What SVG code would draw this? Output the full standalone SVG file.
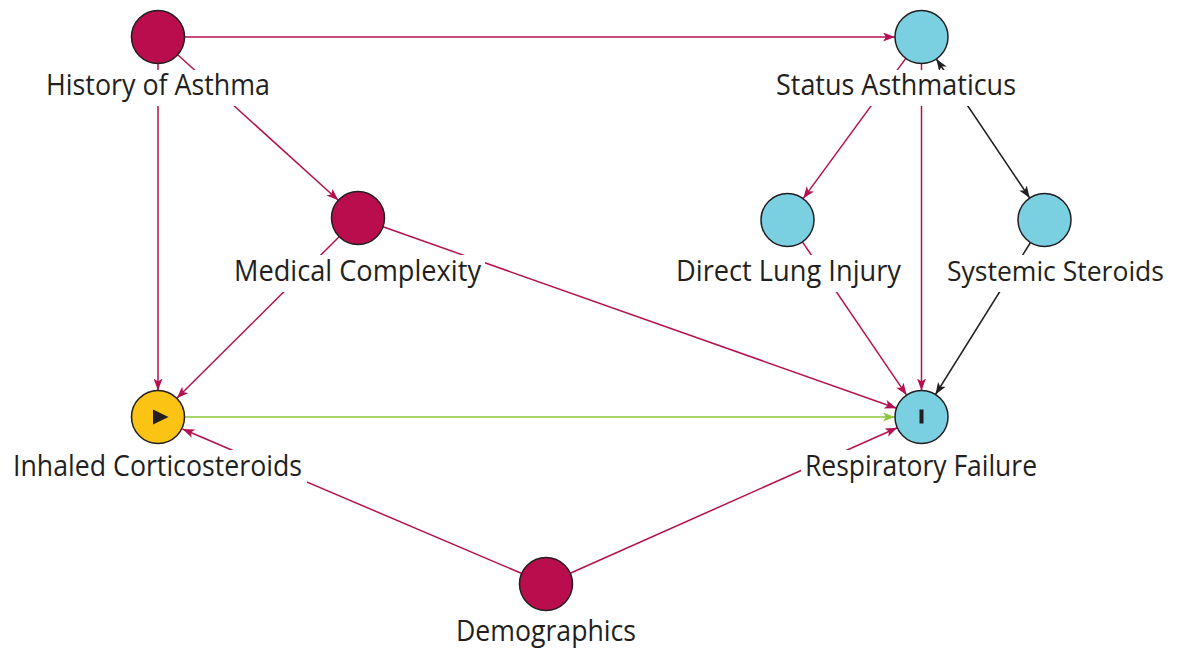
<svg xmlns="http://www.w3.org/2000/svg" width="1183" height="652" viewBox="0 0 1183 652">
<style>
.bg{fill:#ffffff}
.e{fill:none;stroke-width:1.5}
.c{stroke:#b5104f}
.k{stroke:#231f20}
.g{stroke:#8cc63f}
.n{stroke:#231f20;stroke-width:1.5}
.red{fill:#ba0d4e}
.blue{fill:#7acfe0}
.yel{fill:#fbc314}
.lab{fill:#ffffff;stroke:none}
text{font-family:"Open Sans","Noto Sans",sans-serif;font-size:30px;fill:#231f20;text-anchor:start}
text.s{font-size:28px}
</style>
<defs>
<marker id="ac" viewBox="0 0 12 9" refX="12" refY="4.5" markerWidth="12" markerHeight="9" markerUnits="userSpaceOnUse" orient="auto-start-reverse"><path d="M0,0 L12,4.5 L0,9 L3,4.5 z" fill="#b5104f"/></marker>
<marker id="ak" viewBox="0 0 12 9" refX="12" refY="4.5" markerWidth="12" markerHeight="9" markerUnits="userSpaceOnUse" orient="auto-start-reverse"><path d="M0,0 L12,4.5 L0,9 L3,4.5 z" fill="#231f20"/></marker>
<marker id="ag" viewBox="0 0 12 9" refX="12" refY="4.5" markerWidth="12" markerHeight="9" markerUnits="userSpaceOnUse" orient="auto-start-reverse"><path d="M0,0 L12,4.5 L0,9 L3,4.5 z" fill="#8cc63f"/></marker>
</defs>
<rect class="bg" x="0" y="0" width="1183" height="652"/>
<g id="connectors">
<line class="e c" x1="184.5" y1="37" x2="895" y2="37" marker-end="url(#ac)"/>
<line class="e c" x1="158" y1="63.5" x2="158" y2="390.5" marker-end="url(#ac)"/>
<line class="e c" x1="177.7" y1="54.8" x2="338.3" y2="200.2" marker-end="url(#ac)"/>
<line class="e c" x1="339.2" y1="236.7" x2="176.8" y2="398.3" marker-end="url(#ac)"/>
<line class="e c" x1="383" y1="226.8" x2="896.5" y2="408.2" marker-end="url(#ac)"/>
<line class="e g" x1="184.5" y1="417" x2="895" y2="417" marker-end="url(#ag)"/>
<line class="e c" x1="521.7" y1="573.5" x2="182.5" y2="429" marker-end="url(#ac)"/>
<line class="e c" x1="570.2" y1="573.2" x2="897.3" y2="427.8" marker-end="url(#ac)"/>
<line class="e c" x1="905.8" y1="58.4" x2="803.2" y2="198.6" marker-end="url(#ac)"/>
<line class="e c" x1="921.5" y1="63.5" x2="921.5" y2="390.5" marker-end="url(#ac)"/>
<line class="e k" x1="936.3" y1="59" x2="1029.7" y2="198" marker-start="url(#ak)" marker-end="url(#ak)"/>
<line class="e c" x1="802.4" y1="241.9" x2="906.6" y2="395.1" marker-end="url(#ac)"/>
<line class="e k" x1="1030.5" y1="242.5" x2="935.5" y2="394.5" marker-end="url(#ak)"/>
</g>
<g id="history-of-asthma">
<rect class="lab" x="42" y="70" width="232" height="36"/>
<circle class="n red" cx="158" cy="37" r="26.5"/>
<text x="46" y="95" textLength="224" lengthAdjust="spacingAndGlyphs">History of Asthma</text>
</g>
<g id="status-asthmaticus">
<rect class="lab" x="772" y="70" width="248" height="36"/>
<circle class="n blue" cx="921.5" cy="37" r="26.5"/>
<text x="776" y="95" textLength="240" lengthAdjust="spacingAndGlyphs">Status Asthmaticus</text>
</g>
<g id="medical-complexity">
<rect class="lab" x="230" y="255" width="255" height="37"/>
<circle class="n red" cx="358" cy="218" r="26.5"/>
<text x="234" y="281" textLength="247" lengthAdjust="spacingAndGlyphs">Medical Complexity</text>
</g>
<g id="direct-lung-injury">
<rect class="lab" x="672" y="255" width="233" height="37"/>
<circle class="n blue" cx="787.5" cy="220" r="26.5"/>
<text x="676" y="281" textLength="225" lengthAdjust="spacingAndGlyphs">Direct Lung Injury</text>
</g>
<g id="systemic-steroids">
<rect class="lab" x="943" y="255" width="227" height="37"/>
<circle class="n blue" cx="1044.5" cy="220" r="26.5"/>
<text class="s" x="947" y="281" textLength="217" lengthAdjust="spacingAndGlyphs">Systemic Steroids</text>
</g>
<g id="inhaled-corticosteroids">
<rect class="lab" x="9" y="450" width="298" height="37"/>
<circle class="n yel" cx="158" cy="417" r="26.5"/>
<polygon points="153,409.5 168.5,417 153,424.5" fill="#231f20"/>
<text x="13" y="476" textLength="289" lengthAdjust="spacingAndGlyphs">Inhaled Corticosteroids</text>
</g>
<g id="respiratory-failure">
<rect class="lab" x="801" y="450" width="240" height="37"/>
<circle class="n blue" cx="921.5" cy="417" r="26.5"/>
<rect x="919.5" y="409.5" width="4" height="14" fill="#231f20"/>
<text x="805" y="476" textLength="232" lengthAdjust="spacingAndGlyphs">Respiratory Failure</text>
</g>
<g id="demographics">
<rect class="lab" x="452" y="615" width="189" height="37"/>
<circle class="n red" cx="546" cy="584" r="26.5"/>
<text x="456" y="641" textLength="180" lengthAdjust="spacingAndGlyphs">Demographics</text>
</g>
</svg>
